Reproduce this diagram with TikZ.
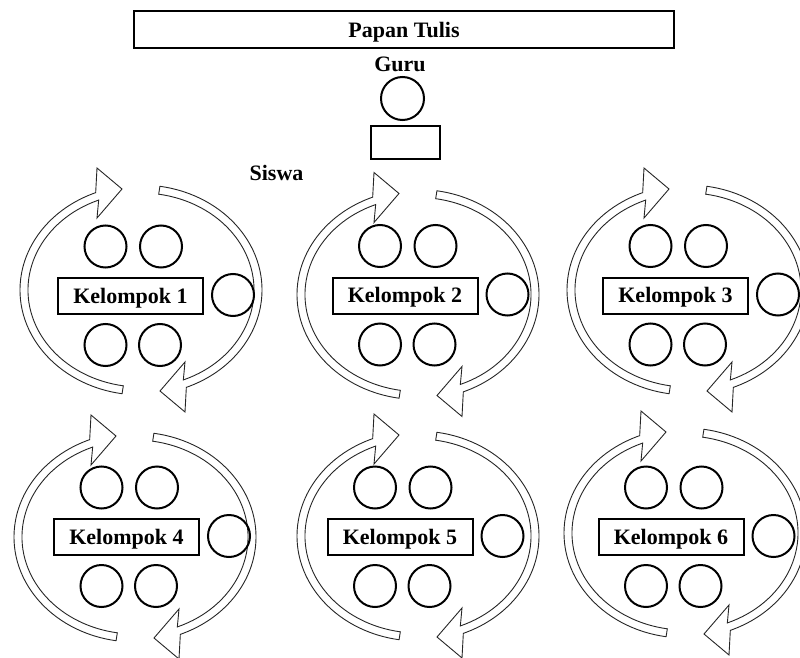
\documentclass[tikz,border=0pt]{standalone}
\usepackage{fontspec}
\setmainfont{Liberation Serif}
\usetikzlibrary{calc}

\begin{document}
\begin{tikzpicture}[x=1pt, y=-1pt, font=\fontsize{22}{26}\selectfont\bfseries,
  siswa/.style={draw, circle, line width=2pt, minimum size=42pt, inner sep=0pt},
  kotak/.style={draw, line width=2pt, inner sep=0pt, text height=15pt, text depth=1pt},
  kel/.style={kotak, minimum width=145pt, minimum height=36pt},
  putar/.style={draw=black!85, line width=0.9pt, fill=white, line join=miter},
  label/.style={inner sep=0pt, anchor=base}]
\useasboundingbox (0,0) rectangle (800,658);

% papan tulis dan guru
\node[kotak, minimum width=540pt, minimum height=37pt, text height=16pt, text depth=0pt]
  (papan) at (404,29.5) {Papan Tulis};
\node[label] (guru) at (400,72) {Guru};
\node[siswa, minimum size=43pt] (gurucirc) at (402.5,98.5) {};
\node[draw, line width=2pt, minimum width=69pt, minimum height=33pt, inner sep=0pt]
  (meja) at (405.5,142.5) {};
\node[label] (siswalbl) at (276.5,180) {Siswa};

% enam kelompok, tiap kelompok dengan dua panah putar
\foreach \n/\bx/\by/\ex/\ey in {1/130.5/296/141/290, 2/405/295.5/418/294.5,
    3/675.5/295.5/688/290, 4/126.5/537/135/537, 5/400/537/418/536, 6/671/537/685/533}{
  \foreach \r in {0,180}{
    \draw[putar, rotate around={\r:(\ex,\ey)}]
      ({\ex+121*cos(99)},{\ey+105*sin(99)})
      arc[start angle=99, end angle=248, x radius=121, y radius=105]
      -- ({\ex-44},{\ey-122}) -- ({\ex-19},{\ey-101}) -- ({\ex-44},{\ey-72})
      -- ({\ex+113*cos(248)},{\ey+97*sin(248)})
      arc[start angle=248, end angle=99, x radius=113, y radius=97] -- cycle;
  }
  \node[kel] (k\n) at (\bx,\by) {Kelompok \n};
  \node[siswa] (s\n-1) at ($(k\n)+(-25,-49.5)$) {};
  \node[siswa] (s\n-2) at ($(k\n)+(30.5,-49.5)$) {};
  \node[siswa] (s\n-3) at ($(k\n)+(102.5,-1)$) {};
  \node[siswa] (s\n-4) at ($(k\n)+(-25,49)$) {};
  \node[siswa] (s\n-5) at ($(k\n)+(29.5,49)$) {};
}
\end{tikzpicture}
\end{document}
